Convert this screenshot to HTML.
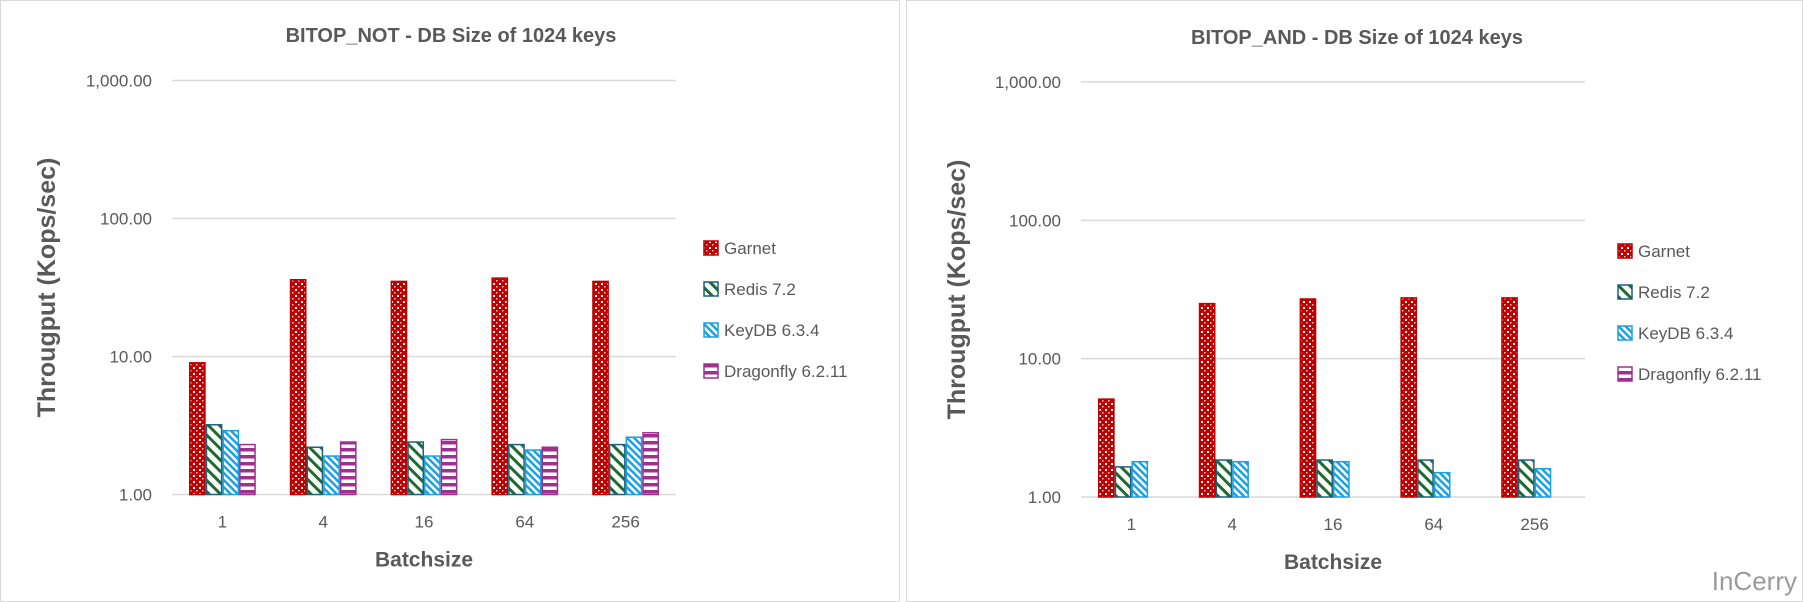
<!DOCTYPE html>
<html><head><meta charset="utf-8"><style>
body{margin:0;background:#fff}
svg{display:block;font-family:"Liberation Sans",sans-serif}
</style></head><body>
<svg width="1803" height="602" viewBox="0 0 1803 602" xmlns="http://www.w3.org/2000/svg">
<defs>
<pattern id="pg" width="6" height="6" patternUnits="userSpaceOnUse"><rect width="6" height="6" fill="#C00000"/><rect x="1" y="1" width="2" height="2" fill="#fff"/><rect x="4" y="4" width="1.5" height="1.5" fill="#f4c0c0"/></pattern>
<pattern id="pr" width="8" height="8" patternUnits="userSpaceOnUse" patternTransform="rotate(45)"><rect width="8" height="8" fill="#fff"/><rect width="8" height="3" fill="#1E6B2E"/></pattern>
<pattern id="pk" width="5" height="5" patternUnits="userSpaceOnUse" patternTransform="rotate(45)"><rect width="5" height="5" fill="#fff"/><rect width="5" height="2.5" fill="#1BA1E2"/></pattern>
<pattern id="pd" width="6" height="7" patternUnits="userSpaceOnUse"><rect width="6" height="7" fill="#fff"/><rect width="6" height="3.5" fill="#A0308F"/></pattern>
</defs>
<rect x="0.5" y="0.5" width="899" height="601" fill="#fff" stroke="#d9d9d9"/>
<rect x="906.5" y="0.5" width="896" height="601" fill="#fff" stroke="#d9d9d9"/>
<g id="charts"></g>
<text x="1797" y="590" text-anchor="end" font-size="26" fill="#9a9a9a">InCerry</text>
</svg>
<script>
const S='http://www.w3.org/2000/svg';
const g=document.getElementById('charts');
function el(t,a,txt){const e=document.createElementNS(S,t);for(const k in a)e.setAttribute(k,a[k]);if(txt!=null)e.textContent=txt;g.appendChild(e);return e;}
const fills=['url(#pg)','url(#pr)','url(#pk)','url(#pd)'];
const strokes=['#C00000','#1F5F7F','#1BA1E2','#A0308F'];
const names=['Garnet','Redis 7.2','KeyDB 6.3.4','Dragonfly 6.2.11'];
function chart(c){
  const {x0,x1,y1000,y1,title,tx,ty,data,lx,ly,yt}=c;
  const dec=(y1-y1000)/3;
  el('text',{x:tx,y:ty,'text-anchor':'middle','font-size':20,'font-weight':'bold',fill:'#595959'},title);
  ['1.00','10.00','100.00','1,000.00'].forEach((l,i)=>{const y=y1-i*dec;
    el('line',{x1:x0,x2:x1,y1:y,y2:y,stroke:'#d9d9d9','stroke-width':1.5});
    el('text',{x:x0-20,y:y+6,'text-anchor':'end','font-size':17,fill:'#595959'},l);});
  const cw=(x1-x0)/5,bw=16.7;
  ['1','4','16','64','256'].forEach((l,i)=>{const cx=x0+cw*(i+0.5);
    el('text',{x:cx,y:y1+33,'text-anchor':'middle','font-size':17,fill:'#595959'},l);
    for(let s=0;s<4;s++){const v=data[s][i];if(!v)continue;const y=y1-Math.log10(v)*dec;
      el('rect',{x:cx-2*bw+s*bw+0.75,y:y,width:bw-1.5,height:y1-y,fill:fills[s],stroke:strokes[s],'stroke-width':1.5});}
  });
  el('text',{x:(x0+x1)/2,y:y1+72,'text-anchor':'middle','font-size':21,'font-weight':'bold',fill:'#595959'},'Batchsize');
  el('text',{x:0,y:0,transform:`translate(${yt} ${(y1+y1000)/2}) rotate(-90)`,'text-anchor':'middle','font-size':25,'font-weight':'bold',fill:'#595959'},'Througput (Kops/sec)');
  names.forEach((n,s)=>{const y=ly+s*41;
    el('rect',{x:lx,y:y-7,width:14,height:14,fill:fills[s],stroke:strokes[s],'stroke-width':1.5});
    el('text',{x:lx+20,y:y+6,'font-size':17,fill:'#595959'},n);});
}
chart({x0:172,x1:676,y1000:80.5,y1:494.5,title:'BITOP_NOT  - DB Size of 1024 keys',tx:451,ty:42,lx:704,ly:248,yt:55,
 data:[[9,36,35,37,35],[3.2,2.2,2.4,2.3,2.3],[2.9,1.9,1.9,2.1,2.6],[2.3,2.4,2.5,2.2,2.8]]});
chart({x0:1081,x1:1585,y1000:82,y1:497,title:'BITOP_AND - DB Size of 1024 keys',tx:1357,ty:44,lx:1618,ly:251,yt:965,
 data:[[5.1,25,27,27.5,27.5],[1.65,1.85,1.85,1.85,1.85],[1.8,1.8,1.8,1.5,1.6],[0,0,0,0,0]]});
</script>
</body></html>
